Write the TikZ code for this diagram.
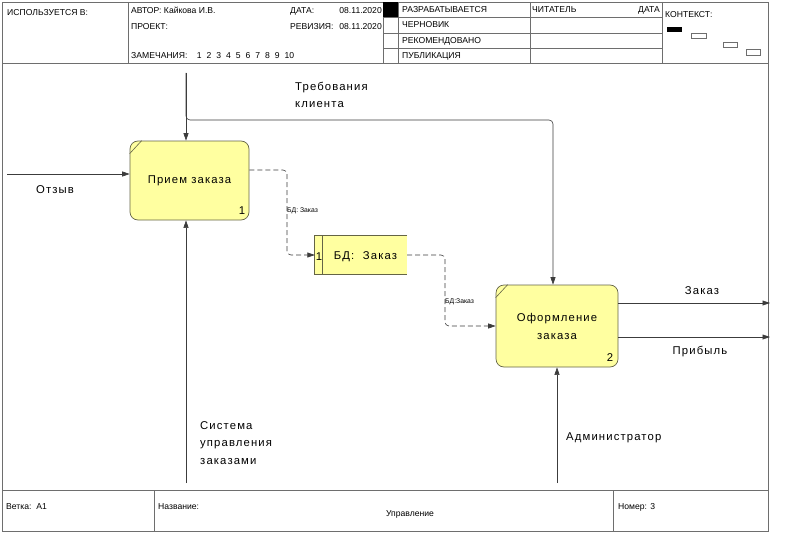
\documentclass[tikz,border=0pt]{standalone}
\usepackage{fontspec}
\setmainfont{Liberation Sans}
\newfontfamily\lblfont[LetterSpace=10]{Liberation Sans}
\usetikzlibrary{arrows.meta}
\definecolor{frameline}{RGB}{110,110,110}
\definecolor{arrline}{RGB}{60,60,60}
\definecolor{boxfill}{RGB}{255,255,160}
\definecolor{boxline}{RGB}{100,100,70}
\tikzset{
  hdr/.style={font=\fontsize{8.6}{10}\selectfont, anchor=west, inner sep=0pt, text height=6.2pt, text depth=1.8pt},
  lbl/.style={font=\lblfont\fontsize{11.3}{17.5}\selectfont, inner sep=0pt, align=left},
  small/.style={font=\fontsize{6.8}{8}\selectfont, inner sep=0pt, anchor=west},
  proc/.style={draw=boxline, fill=boxfill, rounded corners=8pt, minimum width=119pt, minimum height=79pt, inner sep=0pt, line width=0.7pt,
    font=\lblfont\fontsize{11.3}{18}\selectfont, align=center},
  arr/.style={draw=arrline, line width=0.6pt, -{Triangle[length=7.5pt,width=5pt]}},
  darr/.style={arr, dash pattern=on 5pt off 3pt, rounded corners=4pt},
  frm/.style={draw=frameline, line width=0.7pt},
}
\begin{document}
\begin{tikzpicture}[x=1pt,y=-1pt]
\useasboundingbox (0,0) rectangle (799,532);
% frame
\draw[frm] (2,2) rectangle (768,531);
\draw[frm] (2,63) -- (768,63);
\draw[frm] (2,490) -- (768,490);
\draw[frm] (128,2) -- (128,63);
\draw[frm] (383,2) -- (383,63);
\draw[frm] (398,2) -- (398,63);
\draw[frm] (530,2) -- (530,63);
\draw[frm] (662,2) -- (662,63);
\foreach \yy in {17,33,48} \draw[frm] (383,\yy) -- (662,\yy);
\fill[black] (383,2) rectangle (398,17);
\draw[frm] (154,490) -- (154,531);
\draw[frm] (613,490) -- (613,531);
% header texts
\node[hdr] (t1) at (7,13) {ИСПОЛЬЗУЕТСЯ В:};
\node[hdr] (t2) at (131,11) {АВТОР: Кайкова И.В.};
\node[hdr] (t3) at (290,11) {ДАТА:};
\node[hdr, anchor=east] (t4) at (382,11) {08.11.2020};
\node[hdr] (t5) at (131,27) {ПРОЕКТ:};
\node[hdr] (t6) at (290,27) {РЕВИЗИЯ:};
\node[hdr, anchor=east] (t7) at (382,27) {08.11.2020};
\node[hdr] (t8) at (131,56) {ЗАМЕЧАНИЯ:};
\foreach \n [count=\i] in {1,2,3,4,5,6,7,8,9,10}
  \node[hdr] (tn\i) at ({187+9.75*\i},56) {\n};
\node[hdr] (s1t) at (402,10) {РАЗРАБАТЫВАЕТСЯ};
\node[hdr] (s2t) at (402,25) {ЧЕРНОВИК};
\node[hdr] (s3t) at (402,41) {РЕКОМЕНДОВАНО};
\node[hdr] (s4t) at (402,56) {ПУБЛИКАЦИЯ};
\node[hdr] (rd) at (532,10) {ЧИТАТЕЛЬ};
\node[hdr, anchor=east] (dt) at (660,10) {ДАТА};
\node[hdr] (ctx) at (665,15) {КОНТЕКСТ:};
\fill[black] (667,27) rectangle (682,32);
\draw[frm, line width=0.5pt] (691,33) rectangle (706,38);
\draw[frm, line width=0.5pt] (723,42) rectangle (737,47);
\draw[frm, line width=0.5pt] (746,49) rectangle (760,55);
% footer
\node[hdr] (f1) at (6,507) {Ветка:\ \ А1};
\node[hdr] (f2) at (158,507) {Название:};
\node[hdr, anchor=center] (f3) at (410,514) {Управление};
\node[hdr] (f4) at (618,507) {Номер: 3};
% boxes
\node[proc] (box1) at (189.5,180.5) {Прием заказа};
\draw[boxline, line width=0.6pt] ([yshift=-13pt]box1.north west) -- ([xshift=12pt]box1.north west);
\node[font=\fontsize{11.3}{12}\selectfont, inner sep=0pt] (n1) at (242,211) {1};
\node[proc, minimum width=122pt, minimum height=82pt] (box2) at (557,326) {Оформление\\заказа};
\draw[boxline, line width=0.6pt] ([yshift=-13pt]box2.north west) -- ([xshift=12pt]box2.north west);
\node[font=\fontsize{11.3}{12}\selectfont, inner sep=0pt] (n2) at (610,358) {2};
% data store
\node[fill=boxfill, minimum width=92pt, minimum height=38pt, inner sep=0pt] (bd) at (361,255) {};
\draw[boxline, line width=0.7pt] (bd.north east) -- (bd.north west) -- (bd.south west) -- (bd.south east);
\draw[boxline, line width=0.7pt] ([xshift=8pt]bd.north west) -- ([xshift=8pt]bd.south west);
\node[font=\fontsize{11.3}{12}\selectfont, inner sep=0pt] (bdn) at (319,257) {1};
\node[font=\lblfont\fontsize{11.3}{12}\selectfont, inner sep=0pt] (bdt) at (365.5,257) {БД:\ \ Заказ};
% connectors
\coordinate (top1) at (186,73);
\coordinate (br) at (186,120);
\coordinate (c2) at (553,120);
\draw[arr] (top1) -- (top1 |- box1.north);
\draw[arr, rounded corners=4pt] (top1) -- (br) -- (c2) -- (c2 |- box2.north);
\node[lbl, anchor=north west] (req) at (295,82) {Требования\\клиента};
\coordinate (in1) at (7,174);
\draw[arr] (in1) -- (in1 -| box1.west);
\node[lbl, anchor=west] (otz) at (36,190) {Отзыв};
\coordinate (b1) at (186,483);
\draw[arr] (b1) -- (b1 |- box1.south);
\node[lbl, anchor=north west] (sys) at (200,421) {Система\\управления\\заказами};
\coordinate (b2) at (557,483);
\draw[arr] (b2) -- (box2.south);
\node[lbl, anchor=west] (adm) at (566,438) {Администратор};
\coordinate (y170) at (0,170);
\coordinate (d1) at (287,170);
\draw[darr] (box1.east |- y170) -- (d1) -- (d1 |- bd.west) -- (bd.west);
\node[small] (dl1) at (287,211) {БД: Заказ};
\coordinate (d2) at (445,255);
\draw[darr] (bd.east) -- (d2) -- (d2 |- box2.west) -- (box2.west);
\node[small] (dl2) at (445,302) {БД:Заказ};
\coordinate (o1) at (770,303);
\coordinate (o2) at (770,337);
\draw[arr] (box2.east |- o1) -- (o1);
\draw[arr] (box2.east |- o2) -- (o2);
\node[lbl, anchor=center] (zk) at (702,291) {Заказ};
\node[lbl, anchor=center] (pr) at (700,352) {Прибыль};
\end{tikzpicture}
\end{document}
